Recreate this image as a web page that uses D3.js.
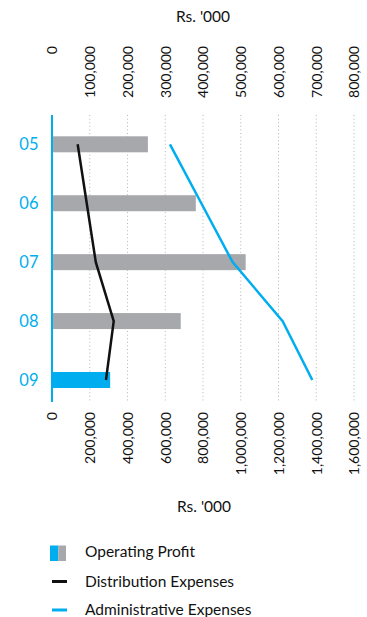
<!DOCTYPE html>
<html>
<head>
<meta charset="utf-8">
<script src="https://cdn.jsdelivr.net/npm/d3@7"></script>
<style>
  html, body { margin: 0; padding: 0; background: #fff; }
  svg { display: block; font-family: Lato, "Open Sans", sans-serif; }
</style>
</head>
<body>
<svg id="chart" width="367" height="617"></svg>
<script>
// Years shown on the category axis
const years = ["05", "06", "07", "08", "09"];
// Operating profit (Rs. '000) — read against the top axis
const operatingProfit = [254000, 381000, 513000, 341000, 154000];
// Expenses (Rs. '000) — read against the bottom axis
const distributionExpenses = [136000, 184000, 232000, 327000, 286000];
const administrativeExpenses = [625000, 791000, 957000, 1222000, 1379000];
// Tick values
const topTicks = [0, 100000, 200000, 300000, 400000, 500000, 600000, 700000, 800000];
const bottomTicks = [0, 200000, 400000, 600000, 800000, 1000000, 1200000, 1400000, 1600000];
const axisTitle = "Rs. '000";
const legendLabels = ["Operating Profit", "Distribution Expenses", "Administrative Expenses"];

const BLUE = "#00aeef";
const GREY = "#a7a8ab";
const INK = "#111";

const svg = d3.select("#chart");
const fmt = d3.format(",");

const left = 52, right = 354;
const plotTop = 115, plotBottom = 401;

const xTop = d3.scaleLinear().domain([0, 800000]).range([left, right]);
const xBottom = d3.scaleLinear().domain([0, 1600000]).range([left, right]);
const y = d3.scalePoint().domain(years).range([144.3, 380]);
const barH = 16;

// dotted vertical gridlines
svg.append("g")
  .selectAll("line")
  .data(topTicks.slice(1))
  .join("line")
  .attr("x1", d => xTop(d)).attr("x2", d => xTop(d))
  .attr("y1", plotTop).attr("y2", plotBottom)
  .attr("stroke", "#b5b5b5")
  .attr("stroke-width", 1)
  .attr("stroke-dasharray", "1,2.6");

// axis titles
svg.append("text").attr("x", 203).attr("y", 22)
  .attr("text-anchor", "middle").attr("font-size", 15.5).attr("fill", INK)
  .text(axisTitle);
svg.append("text").attr("x", 204).attr("y", 512)
  .attr("text-anchor", "middle").attr("font-size", 15.5).attr("fill", INK)
  .text(axisTitle);

function styleTicks(g) {
  g.select(".domain").remove();
  g.selectAll(".tick line").remove();
  g.selectAll(".tick text")
    .attr("x", 0).attr("y", 0).attr("dy", "0.35em")
    .attr("transform", "rotate(-90)")
    .attr("text-anchor", "end")
    .attr("font-size", 14)
    .attr("font-family", "Lato, 'Open Sans', sans-serif")
    .attr("fill", INK);
}

// top axis (operating profit)
svg.append("g")
  .attr("transform", "translate(0,46)")
  .call(d3.axisTop(xTop).tickValues(topTicks).tickFormat(fmt).tickSize(0))
  .call(styleTicks);

// bottom axis (expenses)
svg.append("g")
  .attr("transform", "translate(0,412)")
  .call(d3.axisBottom(xBottom).tickValues(bottomTicks).tickFormat(fmt).tickSize(0))
  .call(styleTicks);

// operating profit bars
svg.append("g")
  .selectAll("rect")
  .data(years.map((yr, i) => ({ yr, v: operatingProfit[i], last: i === years.length - 1 })))
  .join("rect")
  .attr("x", xTop(0))
  .attr("y", d => y(d.yr) - barH / 2)
  .attr("width", d => xTop(d.v) - xTop(0))
  .attr("height", barH)
  .attr("fill", d => d.last ? BLUE : GREY);

// category axis line
svg.append("line")
  .attr("x1", left).attr("x2", left)
  .attr("y1", plotTop).attr("y2", 402)
  .attr("stroke", BLUE).attr("stroke-width", 2);

// year labels
svg.append("g")
  .attr("transform", `translate(${left},0)`)
  .call(d3.axisLeft(y).tickSize(0).tickPadding(13.5))
  .call(g => g.select(".domain").remove())
  .call(g => g.selectAll(".tick text")
    .attr("font-size", 16.5)
    .attr("font-family", "Lato, 'Open Sans', sans-serif")
    .attr("fill", BLUE));

// expense lines
const line = d3.line()
  .x(d => xBottom(d.v))
  .y(d => y(d.yr));

svg.append("path")
  .datum(years.map((yr, i) => ({ yr, v: administrativeExpenses[i] })))
  .attr("d", line)
  .attr("fill", "none").attr("stroke", BLUE).attr("stroke-width", 2.5);

svg.append("path")
  .datum(years.map((yr, i) => ({ yr, v: distributionExpenses[i] })))
  .attr("d", line)
  .attr("fill", "none").attr("stroke", INK).attr("stroke-width", 2.5);

// legend
const lg = svg.append("g");
lg.append("rect").attr("x", 50).attr("y", 545.5).attr("width", 8.3).attr("height", 15.5).attr("fill", BLUE);
lg.append("rect").attr("x", 58.3).attr("y", 545.5).attr("width", 7.7).attr("height", 15.5).attr("fill", GREY);
lg.append("line").attr("x1", 52).attr("x2", 67).attr("y1", 581.5).attr("y2", 581.5)
  .attr("stroke", INK).attr("stroke-width", 3);
lg.append("line").attr("x1", 52).attr("x2", 67).attr("y1", 610).attr("y2", 610)
  .attr("stroke", BLUE).attr("stroke-width", 3);
lg.selectAll("text.lab")
  .data(legendLabels)
  .join("text")
  .attr("class", "lab")
  .attr("x", 85)
  .attr("y", (d, i) => [556.5, 587, 615][i])
  .attr("font-size", 15.5)
  .attr("fill", INK)
  .text(d => d);
</script>
</body>
</html>
